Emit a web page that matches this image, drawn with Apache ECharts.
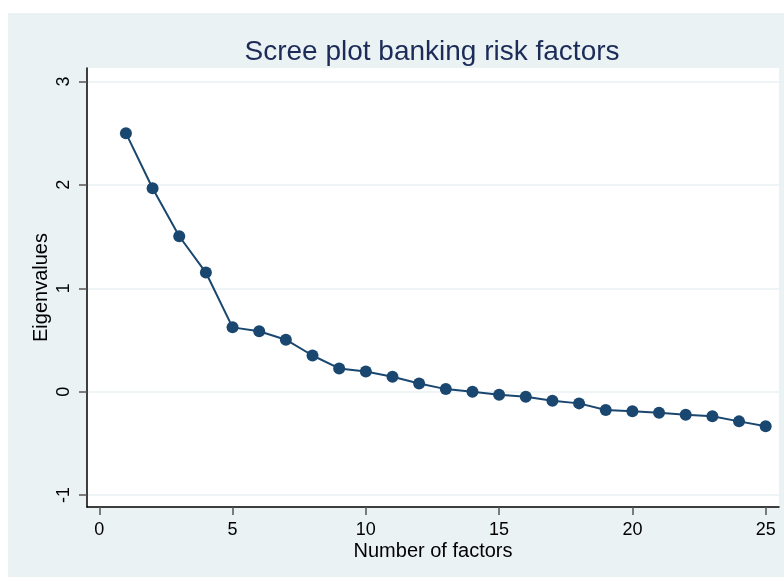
<!DOCTYPE html>
<html>
<head>
<meta charset="utf-8">
<script src="https://cdn.jsdelivr.net/npm/echarts@6/dist/echarts.min.js"></script>
<style>
  html, body { margin: 0; padding: 0; background: #fff; }
  #chart { width: 784px; height: 577px; }
</style>
</head>
<body>
<div id="chart"></div>
<script>
// factor number and eigenvalue
var factors = [1, 2, 3, 4, 5, 6, 7, 8, 9, 10, 11, 12, 13, 14, 15, 16, 17, 18, 19, 20, 21, 22, 23, 24, 25];
var eigenvalues = [2.50, 1.967, 1.503, 1.152, 0.622, 0.584, 0.503, 0.35, 0.225, 0.195, 0.145, 0.08, 0.025, 0.0, -0.03,
  -0.05, -0.087, -0.113, -0.177, -0.19, -0.203, -0.222, -0.238, -0.287, -0.335];
var xTicks = [0, 5, 10, 15, 20, 25];
var yTicks = [-1, 0, 1, 2, 3];

var bg = '#eaf2f3';
var navy = '#1a476f';
var font = '"Liberation Sans", Arial, Helvetica, sans-serif';

var points = [];
for (var i = 0; i < factors.length; i++) {
  points.push([factors[i], eigenvalues[i]]);
}

var chart = echarts.init(document.getElementById('chart'));
chart.setOption({
  animation: false,
  backgroundColor: '#fff',
  graphic: [{
    type: 'rect',
    z: -10,
    silent: true,
    shape: { x: 8, y: 13, width: 776, height: 564 },
    style: { fill: bg }
  }],
  title: {
    text: 'Scree plot banking risk factors',
    left: 427,
    top: 33,
    textAlign: 'center',
    textStyle: { fontFamily: font, fontSize: 28, fontWeight: 'normal', color: '#1c2b58' }
  },
  grid: {
    left: 87, top: 68, right: 5, bottom: 70,
    show: true, backgroundColor: '#fff', borderWidth: 0
  },
  xAxis: {
    type: 'value',
    min: -0.46,
    max: 25.5,
    name: 'Number of factors',
    nameLocation: 'middle',
    nameGap: 34,
    nameMoveOverlap: false,
    nameTextStyle: { fontFamily: font, fontSize: 20, color: '#000' },
    axisLine: { show: true, onZero: false, lineStyle: { color: '#000', width: 1.5 } },
    axisTick: { show: true, customValues: xTicks, length: 8, lineStyle: { color: '#555', width: 1.5 } },
    axisLabel: { customValues: xTicks, margin: 14, fontFamily: font, fontSize: 18, color: '#000' },
    splitLine: { show: false }
  },
  yAxis: {
    type: 'value',
    min: -1.115,
    max: 3.13,
    name: 'Eigenvalues',
    nameLocation: 'middle',
    nameRotate: 90,
    nameGap: 36,
    nameMoveOverlap: false,
    nameTextStyle: { fontFamily: font, fontSize: 20, color: '#000' },
    axisLine: { show: true, onZero: false, lineStyle: { color: '#000', width: 1.5 } },
    axisTick: { show: true, customValues: yTicks, length: 8, lineStyle: { color: '#555', width: 1.5 } },
    axisLabel: { customValues: yTicks, rotate: 90, margin: 14, fontFamily: font, fontSize: 18, color: '#000' },
    splitLine: { show: true, lineStyle: { color: bg, width: 1.5 } }
  },
  series: [{
    type: 'line',
    data: points,
    symbol: 'circle',
    symbolSize: 12,
    itemStyle: { color: navy },
    lineStyle: { color: navy, width: 2 }
  }]
});
</script>
</body>
</html>
